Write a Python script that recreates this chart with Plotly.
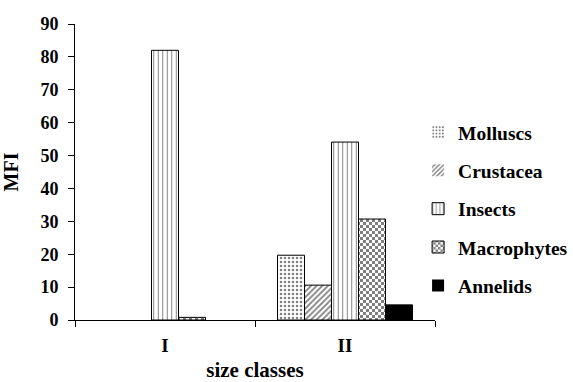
import plotly.graph_objects as go

categories = ["I", "II"]
series_names = ["Molluscs", "Crustacea", "Insects", "Macrophytes", "Annelids"]
molluscs = [0, 19.7]
crustacea = [0, 10.6]
insects = [82, 54.1]
macrophytes = [0.8, 30.7]
annelids = [0, 4.6]
values = [molluscs, crustacea, insects, macrophytes, annelids]

patterns = [
    dict(shape=".", size=4, solidity=0.3, fgcolor="black", bgcolor="white"),
    dict(shape="/", size=4, solidity=0.45, fgcolor="black", bgcolor="white"),
    dict(shape="|", size=4.5, solidity=0.22, fgcolor="black", bgcolor="white"),
    dict(path="M0,0H3V3H0Z M3,3H6V6H3Z", size=6, fgcolor="black", bgcolor="white"),
    dict(shape="", fgcolor="black", bgcolor="black"),
]

FAM = "Liberation Serif, Times New Roman, serif"

fig = go.Figure()
for i, (name, vals) in enumerate(zip(series_names, values)):
    fig.add_trace(go.Bar(
        x=categories, y=vals, name=name, legendgroup=name,
        marker=dict(color="black" if i == 4 else "white",
                    pattern=patterns[i],
                    line=dict(color="black", width=[0 if v == 0 else 1 for v in vals])),
    ))

fig.update_layout(
    width=573, height=382,
    margin=dict(l=75, r=138, t=24, b=62, autoexpand=False),
    paper_bgcolor="white", plot_bgcolor="white",
    barmode="group", bargap=0.25, bargroupgap=0,
    font=dict(family=FAM, color="black", size=15),
    legend=dict(x=0.953, y=0.70, xanchor="left", yanchor="top",
                font=dict(family=FAM, size=19.5, color="black", weight="bold"),
                tracegroupgap=10, itemwidth=30),
    xaxis=dict(showline=True, linecolor="black", linewidth=1, automargin=False,
               ticks="outside", ticklen=6, tickcolor="black",
               tickson="boundaries", ticklabelstandoff=8,
               tickfont=dict(family=FAM, size=19, color="black", weight="bold"),
               title=dict(text="size classes", standoff=8,
                          font=dict(family=FAM, size=21, color="black", weight="bold"))),
    yaxis=dict(range=[0, 90], dtick=10, showline=True, linecolor="black", linewidth=1,
               automargin=False, ticklabelstandoff=6,
               ticks="outside", ticklen=6, tickcolor="black", showgrid=False, zeroline=False,
               tickfont=dict(family=FAM, size=18, color="black", weight="bold"),
               title=dict(text="MFI", standoff=18,
                          font=dict(family=FAM, size=20, color="black", weight="bold"))),
)
fig.write_html("out.html",
               config={"displayModeBar": False},
               post_script="document.body.style.margin='0';document.body.style.overflow='hidden';")
